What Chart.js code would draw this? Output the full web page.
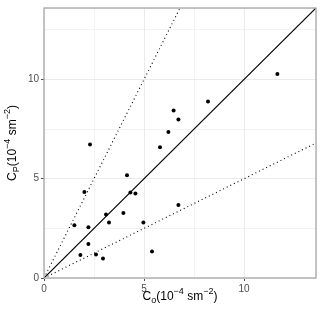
<!DOCTYPE html>
<html>
<head>
<meta charset="utf-8">
<script src="https://cdn.jsdelivr.net/npm/chart.js@4.4.1/dist/chart.umd.min.js"></script>
<style>
  html, body { margin: 0; padding: 0; background: #fff; }
  #wrap { width: 320px; height: 317px; }
</style>
</head>
<body>
<div id="wrap"><canvas id="chart"></canvas></div>
<script>
// observed vs predicted values (10^-4 s m^-2)
const obsX = [1.52, 2.02, 2.30, 2.22, 2.22, 1.82, 2.60, 2.95, 3.10, 3.25, 3.97, 4.15,
              4.32, 4.57, 4.97, 5.40, 5.80, 6.22, 6.48, 6.72, 8.20, 11.67, 6.72];
const predY = [2.66, 4.33, 6.72, 2.56, 1.71, 1.16, 1.19, 0.98, 3.20, 2.80, 3.28, 5.17,
               4.31, 4.26, 2.79, 1.33, 6.59, 7.35, 8.44, 7.98, 8.89, 10.28, 3.68];
const axisMax = 13.6;
const majorTicks = [0, 5, 10];
// reference lines: 1:1, 2:1 and 1:2
const lineOneX = [0, 13.6], lineOneY = [0, 13.6];
const lineTwoX = [0, 6.8], lineTwoY = [0, 13.6];
const lineHalfX = [0, 13.6], lineHalfY = [0, 6.8];

const toPts = (xs, ys) => xs.map((x, i) => ({ x: x, y: ys[i] }));
const isMajor = v => majorTicks.some(m => Math.abs(m - v) < 1e-6);

// draws text pieces with sub/superscripts; parts = [[text, shift]] shift: 0 normal, -1 sub, 1 sup
function drawRich(ctx, parts, cx, cy, size) {
  const big = size + 'px "Liberation Sans", Arial, sans-serif';
  const small = Math.round(size * 0.72) + 'px "Liberation Sans", Arial, sans-serif';
  let total = 0;
  parts.forEach(p => { ctx.font = p[1] ? small : big; total += ctx.measureText(p[0]).width; });
  let x = cx - total / 2;
  parts.forEach(p => {
    ctx.font = p[1] ? small : big;
    const dy = p[1] === 1 ? -size * 0.42 : (p[1] === -1 ? size * 0.3 : 0);
    ctx.fillText(p[0], x, cy + dy);
    x += ctx.measureText(p[0]).width;
  });
}

const titles = {
  id: 'titles',
  afterDraw(chart) {
    const ctx = chart.ctx, a = chart.chartArea;
    ctx.save();
    ctx.fillStyle = '#000';
    ctx.textBaseline = 'middle';
    ctx.textAlign = 'left';
    drawRich(ctx, [['C', 0], ['o', -1], ['(10', 0], ['\u22124', 1], [' sm', 0], ['\u22122', 1], [')', 0]],
      (a.left + a.right) / 2, 297, 12);
    ctx.translate(13, (a.top + a.bottom) / 2);
    ctx.rotate(-Math.PI / 2);
    drawRich(ctx, [['C', 0], ['P', -1], ['(10', 0], ['\u22124', 1], [' sm', 0], ['\u22122', 1], [')', 0]],
      0, 0, 12);
    ctx.restore();
    // panel border
    ctx.save();
    ctx.strokeStyle = '#a6a6a6';
    ctx.lineWidth = 1.3;
    ctx.strokeRect(a.left, a.top, a.right - a.left, a.bottom - a.top);
    ctx.restore();
  }
};

const axisCommon = {
  type: 'linear',
  min: 0,
  max: axisMax,
  border: { display: false },
  grid: {
    color: '#ebebeb',
    lineWidth: c => (c.tick && isMajor(c.tick.value)) ? 1 : 0.6,
    tickColor: c => (c.tick && isMajor(c.tick.value)) ? '#4d4d4d' : 'rgba(0,0,0,0)',
    tickLength: 3,
    drawTicks: true
  },
  ticks: {
    stepSize: 2.5,
    autoSkip: false,
    color: '#4d4d4d',
    padding: 2,
    font: { family: '"Liberation Sans", Arial, sans-serif', size: 10 },
    callback: v => isMajor(v) ? String(v) : ''
  }
};

new Chart(document.getElementById('chart'), {
  type: 'scatter',
  data: {
    datasets: [
      { type: 'line', data: toPts(lineOneX, lineOneY), borderColor: '#000', borderWidth: 1.2,
        pointRadius: 0, fill: false },
      { type: 'line', data: toPts(lineTwoX, lineTwoY), borderColor: '#000', borderWidth: 1.1,
        borderDash: [1, 3], pointRadius: 0, fill: false },
      { type: 'line', data: toPts(lineHalfX, lineHalfY), borderColor: '#000', borderWidth: 1.1,
        borderDash: [1, 3], pointRadius: 0, fill: false },
      { data: toPts(obsX, predY), backgroundColor: '#000', borderColor: '#000',
        pointRadius: 2, borderWidth: 0 }
    ]
  },
  options: {
    responsive: true,
    maintainAspectRatio: false,
    animation: false,
    layout: { padding: { top: 4, right: 4, left: 0, bottom: 0 } },
    plugins: { legend: { display: false }, tooltip: { enabled: false } },
    scales: {
      x: Object.assign({}, axisCommon, {
        afterFit: s => { s.height = 39; }
      }),
      y: Object.assign({}, axisCommon, {
        afterFit: s => { s.width = 44; }
      })
    }
  },
  plugins: [titles]
});
</script>
</body>
</html>
